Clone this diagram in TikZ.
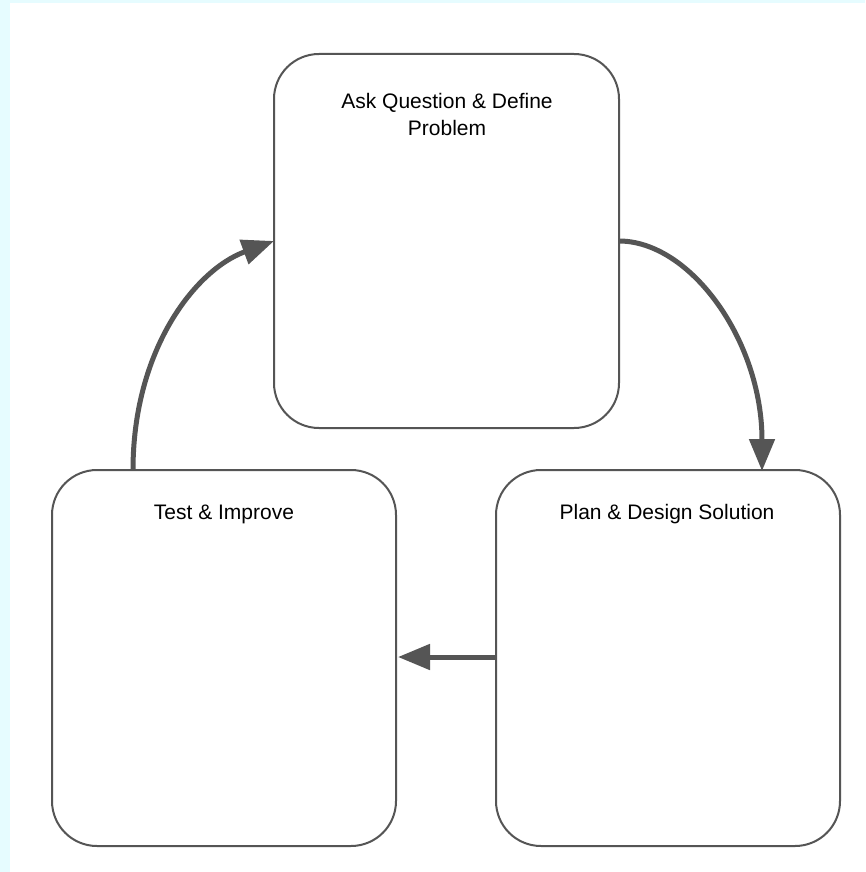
\documentclass[tikz,border=0pt]{standalone}
\usepackage{fontspec}
\setmainfont{Liberation Sans}
\usetikzlibrary{arrows.meta}
\definecolor{bgcyan}{HTML}{E6FCFF}
\definecolor{linegray}{HTML}{555555}
\begin{document}
\begin{tikzpicture}[x=1pt,y=-1pt,
  stagebox/.style={draw=linegray,line width=2pt,rounded corners=45pt},
  flow/.style={draw=linegray,line width=5pt,-{Triangle[length=32pt,width=25pt]}},
  lbl/.style={font=\fontsize{21}{27}\selectfont,align=center,text=black}]
\fill[bgcyan] (0,0) rectangle (865,872);
\fill[white] (10,3) rectangle (865,872);
\useasboundingbox (0,0) rectangle (865,872);
\draw[stagebox] (274,54) rectangle (619,428);
\draw[stagebox] (52,470) rectangle (396,846);
\draw[stagebox] (496,470) rectangle (840,846);
\node[lbl] (t1) at (447,114) {Ask Question \& Define\\Problem};
\node[lbl] (t2) at (224,514) {Test \& Improve};
\node[lbl] (t3) at (667,514) {Plan \& Design Solution};
\coordinate (a1s) at (619,241);
\coordinate (a1e) at (762,471);
\coordinate (a2s) at (496,657);
\coordinate (a2e) at (398,657);
\coordinate (a3s) at (133,470);
\coordinate (a3e) at (274,241);
\draw[flow] (a1s) .. controls (690,241) and (762,340) .. (a1e);
\draw[flow] (a2s) -- (a2e);
\draw[flow] (a3s) .. controls (133,350) and (195,270) .. (a3e);
\end{tikzpicture}
\end{document}
